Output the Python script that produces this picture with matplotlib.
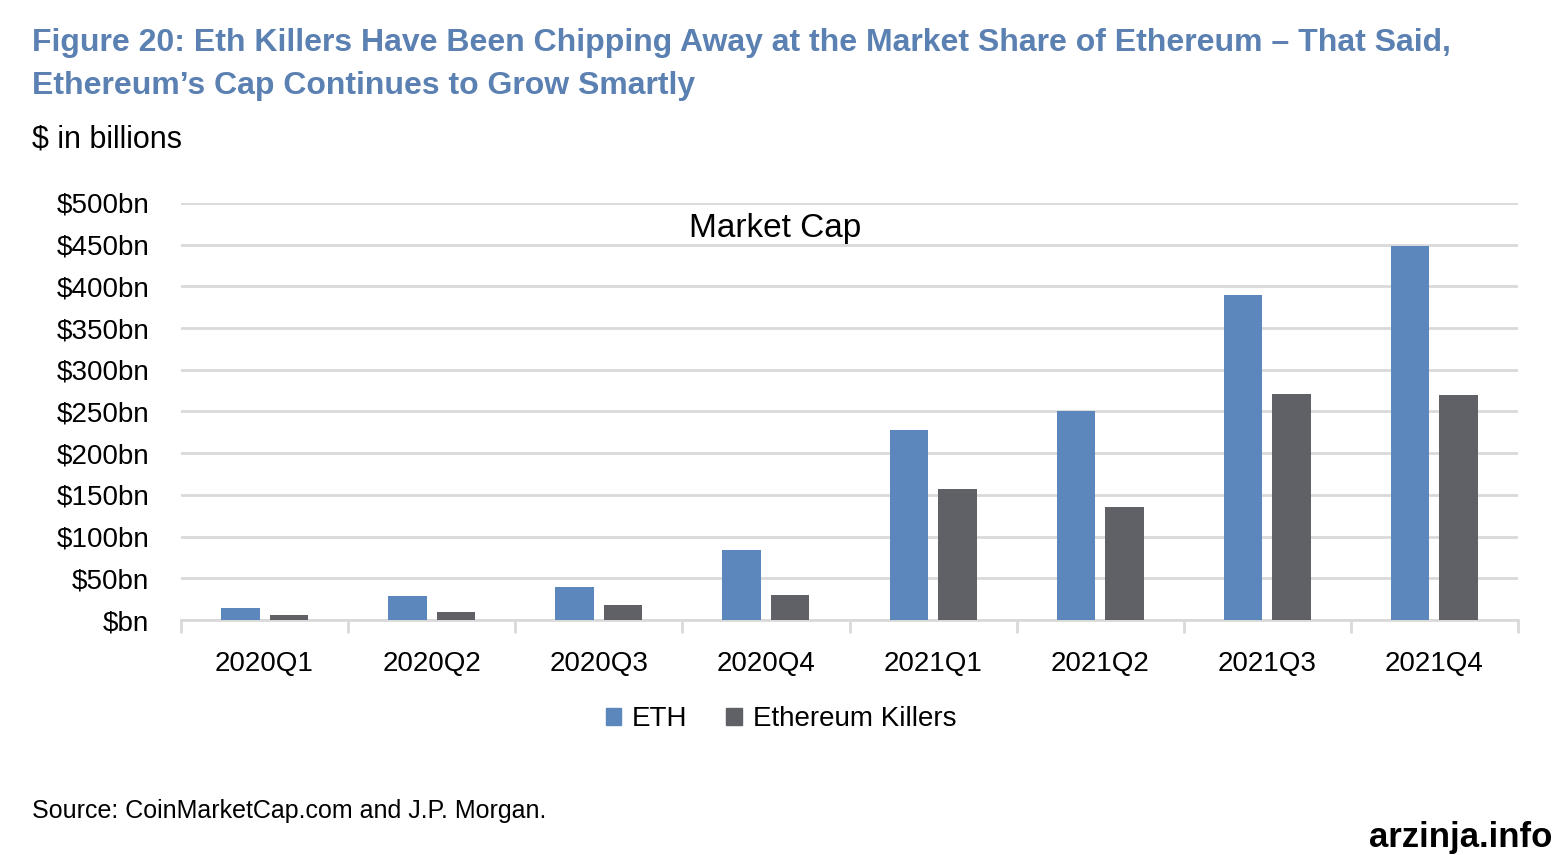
import matplotlib
matplotlib.use("Agg")
import matplotlib.pyplot as plt
import numpy as np
from matplotlib.patches import Patch

quarters = ["2020Q1", "2020Q2", "2020Q3", "2020Q4", "2021Q1", "2021Q2", "2021Q3", "2021Q4"]
eth = [14, 29, 40, 84, 228, 251, 390, 448]
killers = [6, 10, 18, 30, 157, 135, 271, 270]
yticks = [0, 50, 100, 150, 200, 250, 300, 350, 400, 450, 500]
ytick_labels = ["$%dbn" % v if v else "$bn" for v in yticks]

FONT = ["Liberation Sans Narrow", "Liberation Sans", "DejaVu Sans"]
ETH_C = "#5b87bc"
KIL_C = "#5f6166"
GRID_C = "#d9d9d9"
TITLE_C = "#5b80b2"

W, H = 1554, 855
fig = plt.figure(figsize=(W / 100, H / 100), dpi=100)
fig.patch.set_facecolor("white")

def fy(py):
    return 1 - py / H

ax = fig.add_axes([181 / W, (H - 620) / H, (1518 - 181) / W, (620 - 203) / H])
x = np.arange(len(quarters))
bw = 0.23
off = 0.145
ax.bar(x - off, eth, bw, color=ETH_C, label="ETH", zorder=3)
ax.bar(x + off, killers, bw, color=KIL_C, label="Ethereum Killers", zorder=3)

ax.set_xlim(-0.5, len(quarters) - 0.5)
ax.set_ylim(0, 500)
ax.set_yticks(yticks)
ax.set_yticklabels(ytick_labels, fontfamily=FONT, fontsize=20)
ax.set_xticks(x)
ax.set_xticklabels(quarters, fontfamily=FONT, fontsize=20)
ax.set_xticks(np.arange(-0.5, len(quarters)), minor=True)
ax.tick_params(axis="x", which="major", length=0, pad=22)
ax.tick_params(axis="x", which="minor", length=9, width=2, color=GRID_C)
ax.tick_params(axis="y", length=0, pad=23)

ax.yaxis.grid(True, color=GRID_C, linewidth=2, zorder=0)
for s in ["top", "right", "left"]:
    ax.spines[s].set_visible(False)
ax.spines["bottom"].set_color(GRID_C)
ax.spines["bottom"].set_linewidth(2)

handles = [Patch(color=ETH_C, label="ETH"), Patch(color=KIL_C, label="Ethereum Killers")]
fig.legend(handles=handles, loc="center", bbox_to_anchor=(781 / W, fy(719)),
           ncol=2, frameon=False, prop={"family": FONT, "size": 20},
           handlelength=0.55, handleheight=0.55, handletextpad=0.4, columnspacing=1.4)

fig.text(775 / W, fy(237), "Market Cap", ha="center", va="baseline",
         fontfamily=FONT, fontsize=24)

fig.text(32 / W, fy(51), "Figure 20: Eth Killers Have Been Chipping Away at the Market Share of Ethereum \u2013 That Said,",
         ha="left", va="baseline", fontfamily=FONT, fontsize=23, fontweight="bold", color=TITLE_C)
fig.text(32 / W, fy(94), "Ethereum\u2019s Cap Continues to Grow Smartly",
         ha="left", va="baseline", fontfamily=FONT, fontsize=23, fontweight="bold", color=TITLE_C)
fig.text(32 / W, fy(147), "$ in billions", ha="left", va="baseline",
         fontfamily=FONT, fontsize=22)
fig.text(32 / W, fy(818), "Source: CoinMarketCap.com and J.P. Morgan.", ha="left", va="baseline",
         fontfamily=FONT, fontsize=18)
fig.text(1552 / W, fy(847), "arzinja.info", ha="right", va="baseline",
         fontfamily=FONT, fontsize=25, fontweight="bold")

fig.savefig("out.png", dpi=100, facecolor="white")
